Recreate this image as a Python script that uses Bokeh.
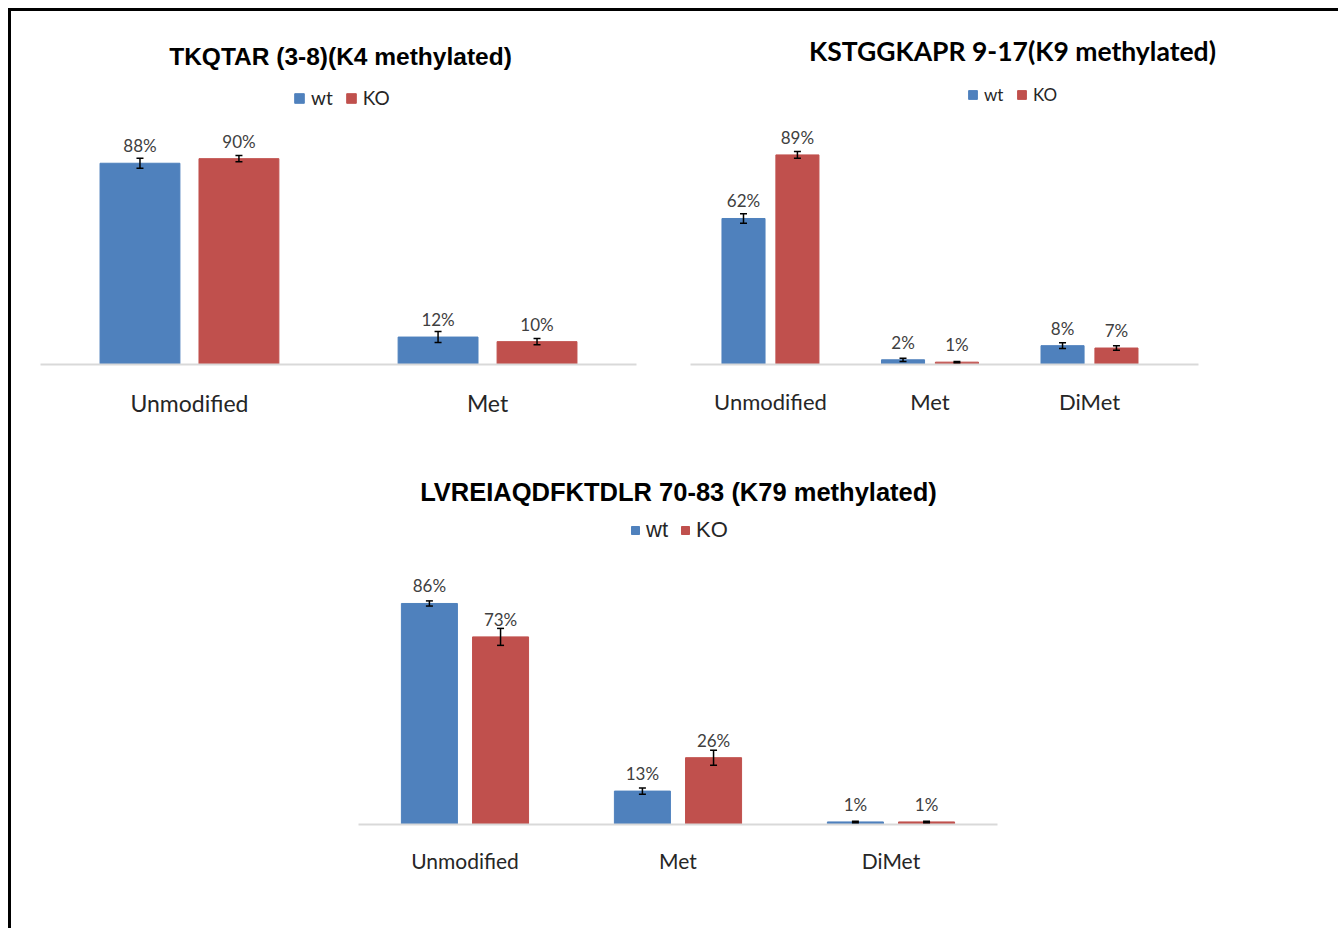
import numpy as np
from bokeh.plotting import figure
from bokeh.models import (ColumnDataSource, Range1d, FixedTicker, Whisker, TeeHead,
                          LabelSet, Label, Legend, LegendItem, Div, Spacer)
from bokeh.layouts import column, row
from bokeh.core.properties import value
from bokeh.embed import file_html
from bokeh.resources import INLINE

WT_COLOR = "#4F81BD"
KO_COLOR = "#C0504D"
series = ["wt", "KO"]

# TKQTAR (K4)
k4_title = "TKQTAR (3-8)(K4 methylated)"
k4_cats = ["Unmodified", "Met"]
k4_wt = [88, 12]
k4_ko = [90, 10]
k4_wt_err = [2.2, 2.4]
k4_ko_err = [1.4, 1.4]

# KSTGGKAPR (K9)
k9_title = "KSTGGKAPR 9-17(K9 methylated)"
k9_cats = ["Unmodified", "Met", "DiMet"]
k9_wt = [62, 2, 8]
k9_ko = [89, 1, 7]
k9_wt_err = [2.0, 0.7, 1.2]
k9_ko_err = [1.4, 0.3, 1.0]

# LVREIAQDFKTDLR (K79)
k79_title = "LVREIAQDFKTDLR 70-83 (K79 methylated)"
k79_cats = ["Unmodified", "Met", "DiMet"]
k79_wt = [86, 13, 1]
k79_ko = [73, 26, 1]
k79_wt_err = [1.0, 1.2, 0.3]
k79_ko_err = [3.3, 2.9, 0.3]


def panel(cats, wt, ko, wt_err, ko_err, title, *, width, height, border_bottom,
          x_range, bounds, y_max, bar_width, offset, title_font, title_size, title_xy,
          legend_xy, legend_font, legend_size, legend_glyph, legend_spacing,
          tick_size, tick_standoff, label_size):
    p = figure(width=width, height=height, x_range=Range1d(*x_range),
               y_range=Range1d(0, y_max), output_backend="svg", toolbar_location=None,
               y_axis_location=None, min_border_left=0, min_border_right=0,
               min_border_top=0, min_border_bottom=border_bottom)
    p.outline_line_color = None
    p.grid.visible = False
    p.background_fill_color = "white"
    p.border_fill_color = "white"

    idx = np.arange(len(cats))
    src = ColumnDataSource(dict(
        x_wt=idx - offset, x_ko=idx + offset, wt=wt, ko=ko,
        wt_lo=[v - e for v, e in zip(wt, wt_err)], wt_hi=[v + e for v, e in zip(wt, wt_err)],
        ko_lo=[v - e for v, e in zip(ko, ko_err)], ko_hi=[v + e for v, e in zip(ko, ko_err)],
        wt_lbl=[f"{v}%" for v in wt], ko_lbl=[f"{v}%" for v in ko],
    ))

    r_wt = p.vbar(x="x_wt", top="wt", width=bar_width, fill_color=WT_COLOR,
                  line_color=WT_COLOR, source=src)
    r_ko = p.vbar(x="x_ko", top="ko", width=bar_width, fill_color=KO_COLOR,
                  line_color=KO_COLOR, source=src)

    for key in ("wt", "ko"):
        p.add_layout(Whisker(base=f"x_{key}", lower=f"{key}_lo", upper=f"{key}_hi", source=src,
                             level="annotation", line_color="black", line_width=1.5,
                             upper_head=TeeHead(size=7, line_color="black", line_width=1.5),
                             lower_head=TeeHead(size=7, line_color="black", line_width=1.5)))
        p.add_layout(LabelSet(x=f"x_{key}", y=key, text=f"{key}_lbl", source=src,
                              text_align="center", text_baseline="alphabetic", y_offset=11,
                              text_font=value("Lato"), text_font_size=f"{label_size}px",
                              text_color="#404040"))

    ax = p.xaxis[0]
    ax.ticker = FixedTicker(ticks=[float(i) for i in idx])
    ax.major_label_overrides = {float(i): c for i, c in enumerate(cats)}
    ax.bounds = bounds
    ax.axis_line_color = "#D9D9D9"
    ax.axis_line_width = 2
    ax.major_tick_line_color = None
    ax.minor_tick_line_color = None
    ax.major_tick_out = 0
    ax.major_tick_in = 0
    ax.major_label_standoff = tick_standoff
    ax.major_label_text_font = "Lato"
    ax.major_label_text_font_size = f"{tick_size}px"
    ax.major_label_text_color = "#262626"

    p.add_layout(Label(x=title_xy[0], y=title_xy[1], x_units="screen", y_units="screen",
                       text=title, text_align="center", text_baseline="middle",
                       text_font=title_font, text_font_style="bold",
                       text_font_size=f"{title_size}px", text_color="black"))

    legend = Legend(items=[LegendItem(label=series[0], renderers=[r_wt]),
                           LegendItem(label=series[1], renderers=[r_ko])],
                    orientation="horizontal", location=legend_xy,
                    border_line_color=None, background_fill_alpha=0,
                    padding=0, margin=0, spacing=legend_spacing,
                    glyph_width=legend_glyph, glyph_height=legend_glyph,
                    label_height=legend_glyph, label_standoff=6,
                    label_text_font=legend_font, label_text_font_size=f"{legend_size}px",
                    label_text_color="#262626")
    p.add_layout(legend)
    return p


p1 = panel(k4_cats, k4_wt, k4_ko, k4_wt_err, k4_ko_err, k4_title,
           width=654, height=419, border_bottom=66,
           x_range=(-0.597, 1.597), bounds=(-0.5, 1.5), y_max=154.35,
           bar_width=0.268, offset=0.166,
           title_font="Liberation Sans", title_size=24.5, title_xy=(329, 308),
           legend_xy=(282, 255), legend_font="Lato", legend_size=19, legend_glyph=12,
           legend_spacing=12, tick_size=23, tick_standoff=24, label_size=17)

p2 = panel(k9_cats, k9_wt, k9_ko, k9_wt_err, k9_ko_err, k9_title,
           width=673, height=419, border_bottom=66,
           x_range=(-0.658, 3.561), bounds=(-0.5, 2.683), y_max=149.9,
           bar_width=0.27, offset=0.169,
           title_font="Lato", title_size=26.5, title_xy=(347, 314),
           legend_xy=(302, 259), legend_font="Lato", legend_size=17, legend_glyph=11,
           legend_spacing=12, tick_size=22, tick_standoff=23, label_size=17)

p3 = panel(k79_cats, k79_wt, k79_ko, k79_wt_err, k79_ko_err, k79_title,
           width=1327, height=496, border_bottom=102,
           x_range=(-2.129, 4.101), bounds=(-0.5, 2.5), y_max=153.3,
           bar_width=0.263, offset=0.167,
           title_font="Liberation Sans", title_size=25.5, title_xy=(667, 333),
           legend_xy=(619, 281), legend_font="Liberation Sans", legend_size=22, legend_glyph=10,
           legend_spacing=12, tick_size=21, tick_standoff=23, label_size=17)

top_line = Div(width=1330, height=3, margin=0, styles={"background-color": "black"})
left_line = Div(width=3, height=917, margin=0, styles={"background-color": "black"})

layout = column(
    Spacer(height=8),
    row(Spacer(width=8), top_line),
    row(Spacer(width=8), left_line, column(row(p1, p2), p3)),
)

open("out.html", "w").write(file_html(layout, INLINE))
